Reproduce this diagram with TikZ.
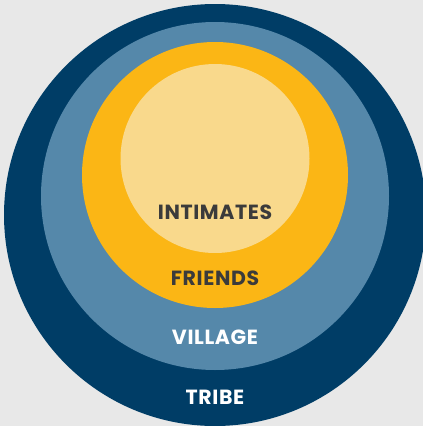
\documentclass[tikz,border=0pt]{standalone}
\usepackage{fontspec}
\setmainfont{Poppins}
\newfontfamily\labfont[LetterSpace=3]{Poppins}
\definecolor{bgray}{HTML}{E8E8E8}
\definecolor{tribeblue}{HTML}{003D66}
\definecolor{villageblue}{HTML}{5588AA}
\definecolor{friendsorange}{HTML}{FBB615}
\definecolor{intimatespale}{HTML}{F9D98C}
\definecolor{labgray}{HTML}{3B3B3B}
\tikzset{
  ring/.style={circle, inner sep=0pt, draw=none},
  lab/.style={font=\labfont\fontsize{20.5}{20.5}\selectfont\bfseries, inner sep=0pt}
}
\begin{document}
\begin{tikzpicture}[x=1pt,y=-1pt]
\useasboundingbox (0,0) rectangle (423,426);
\clip (0,0) rectangle (423,426);
\fill[bgray] (0,0) rectangle (423,426);
\node[ring, fill=tribeblue, minimum size=422] (c0) at (215,215){};
\node[ring, fill=villageblue, minimum size=348] (c1) at (215,196){};
\node[ring, fill=friendsorange, minimum size=266] (c2) at (215,175){};
\node[ring, fill=intimatespale, minimum size=189] (c3) at (215,158.5){};
\node[lab, labgray] (lab3) at (215,212){INTIMATES};
\node[lab, labgray] (lab2) at (215,278){FRIENDS};
\node[lab, white] (lab1) at (215,337){VILLAGE};
\node[lab, white] (lab0) at (215,397){TRIBE};

\end{tikzpicture}
\end{document}
